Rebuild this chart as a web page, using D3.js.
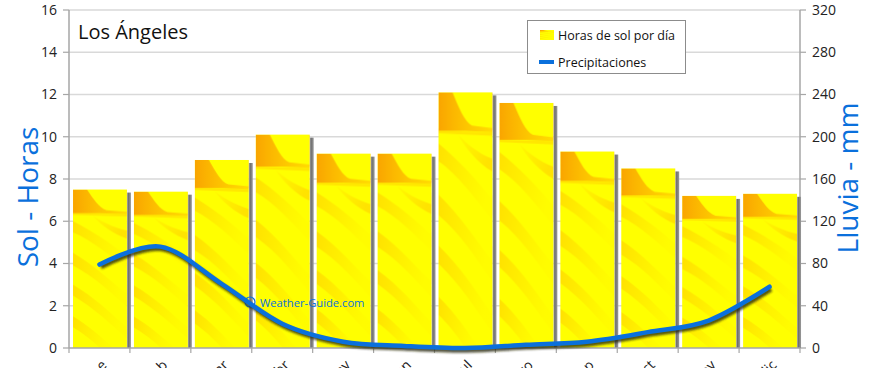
<!DOCTYPE html>
<html><head><meta charset="utf-8">
<script src="https://cdn.jsdelivr.net/npm/d3@7/dist/d3.min.js"></script>
<style>
html,body{margin:0;padding:0;background:#fff;}
svg{display:block;font-family:"Open Sans",Lato,sans-serif;}
</style></head>
<body>
<svg id="chart" width="870" height="368"></svg>
<script>
const months = ["ene","feb","mar","abr","may","jun","jul","ago","sep","oct","nov","dic"];
const sunHours = [7.5,7.4,8.9,10.1,9.2,9.2,12.1,11.6,9.3,8.5,7.2,7.3];
const rainMm = [79,96,61,23,6,2,0,3,6,15,26,58];
const leftTicks = [0,2,4,6,8,10,12,14,16];
const rightTicks = [0,40,80,120,160,200,240,280,320];
const title = "Los Ángeles";
const legendLabels = ["Horas de sol por día","Precipitaciones"];
const leftTitle = "Sol - Horas";
const rightTitle = "Lluvia - mm";
const watermark = "Weather-Guide.com";

const svg = d3.select("#chart");
const L = 69, R = 800, T = 10, B = 348;
const blue = "#0a70dc";

const x = d3.scaleBand().domain(months).range([L, R]);
const y = d3.scaleLinear().domain([0,16]).range([B, T]);
const y2 = d3.scaleLinear().domain([0,320]).range([B, T]);

const defs = svg.append("defs");
const pat = defs.append("pattern").attr("id","sunTex")
  .attr("patternContentUnits","objectBoundingBox")
  .attr("width",1).attr("height",1);
pat.append("rect").attr("width",1).attr("height",1).attr("fill","#ffff00");
function grad(id, c1, o1, c2, o2, x2, y2v){
  const g = defs.append("linearGradient").attr("id",id).attr("x1",0).attr("y1",0).attr("x2",x2).attr("y2",y2v);
  g.append("stop").attr("offset","0%").attr("stop-color",c1).attr("stop-opacity",o1);
  g.append("stop").attr("offset","100%").attr("stop-color",c2).attr("stop-opacity",o2);
}
grad("stG","#ffb000",0.05,"#ffb000",0.35,1,0.4);
grad("stG2","#ffa800",0.35,"#ffc000",0.05,1,0.3);
grad("wedgeG","#f9a000",0.95,"#ffc000",0.55,1,0);
const streaks = [
  {d:"M0.3,0.15 C0.5,0.2 0.75,0.24 1,0.26 L1,0.31 C0.75,0.28 0.5,0.22 0.35,0.16 Z", f:"url(#stG)"},
  {d:"M0,0.2 C0.35,0.26 0.7,0.34 1,0.42 L1,0.5 C0.7,0.42 0.35,0.32 0,0.27 Z", f:"url(#stG2)"},
  {d:"M0,0.4 C0.4,0.48 0.7,0.58 1,0.66 L1,0.74 C0.7,0.65 0.4,0.55 0,0.48 Z", f:"url(#stG2)"},
  {d:"M0,0.6 C0.4,0.68 0.7,0.78 1,0.87 L1,0.94 C0.7,0.85 0.4,0.75 0,0.67 Z", f:"url(#stG2)"},
  {d:"M0,0.8 C0.3,0.86 0.55,0.94 0.75,1 L0.5,1 C0.35,0.95 0.15,0.9 0,0.87 Z", f:"url(#stG2)"}
];
streaks.forEach(s => pat.append("path").attr("d",s.d).attr("fill",s.f));
pat.append("path").attr("d","M0,0 L0.26,0 C0.38,0.06 0.48,0.115 0.62,0.13 L1,0.14 L1,0.155 L0.5,0.15 L0,0.15 Z")
  .attr("fill","url(#wedgeG)");
pat.append("path").attr("d","M0,0.15 L1,0.155 L1,0.17 L0,0.16 Z").attr("fill","#ffd000").attr("opacity",0.5);

const sg = defs.append("linearGradient").attr("id","shadowG").attr("x1",0).attr("y1",0).attr("x2",1).attr("y2",0);
sg.append("stop").attr("offset","0%").attr("stop-color","#b0b0b0");
sg.append("stop").attr("offset","35%").attr("stop-color","#6f6f6f");
sg.append("stop").attr("offset","100%").attr("stop-color","#9a9a9a");

defs.append("filter").attr("id","blur").append("feGaussianBlur").attr("stdDeviation",0.9);

svg.append("g").selectAll("line").data(leftTicks.filter(d=>d>0)).join("line")
  .attr("x1",L).attr("x2",R).attr("y1",d=>y(d)).attr("y2",d=>y(d))
  .attr("stroke","#d9d9d9").attr("stroke-width",1.5);

const axisColor = "#a6a6a6";
svg.append("line").attr("x1",L).attr("x2",L).attr("y1",T).attr("y2",B).attr("stroke",axisColor).attr("stroke-width",1.5);
svg.append("line").attr("x1",R).attr("x2",R).attr("y1",T).attr("y2",B).attr("stroke",axisColor).attr("stroke-width",1.5);
svg.append("g").selectAll("line").data(leftTicks).join("line")
  .attr("x1",L-6).attr("x2",L).attr("y1",d=>y(d)).attr("y2",d=>y(d)).attr("stroke",axisColor).attr("stroke-width",1.2);
svg.append("g").selectAll("line").data(rightTicks).join("line")
  .attr("x1",R).attr("x2",R+6).attr("y1",d=>y2(d)).attr("y2",d=>y2(d)).attr("stroke",axisColor).attr("stroke-width",1.2);

svg.append("g").selectAll("text").data(leftTicks).join("text")
  .attr("x",L-12).attr("y",d=>y(d)).attr("dy","0.35em").attr("text-anchor","end")
  .attr("font-size",14).attr("fill","#222").text(d=>d);
svg.append("g").selectAll("text").data(rightTicks).join("text")
  .attr("x",R+12).attr("y",d=>y2(d)).attr("dy","0.35em").attr("text-anchor","start")
  .attr("font-size",14).attr("fill","#222").text(d=>d);

const step = x.step();
const barOff = step*0.066, barW = step*0.885, shW = 4;
const bars = svg.append("g");
bars.selectAll("rect.sh").data(months).join("rect").attr("class","sh")
  .attr("x",m=>x(m)+barOff+barW).attr("width",shW)
  .attr("y",(m,i)=>y(sunHours[i])+3).attr("height",(m,i)=>B-y(sunHours[i])-3)
  .attr("fill","url(#shadowG)");
bars.selectAll("rect.bar").data(months).join("rect").attr("class","bar")
  .attr("x",m=>x(m)+barOff).attr("width",barW)
  .attr("y",(m,i)=>y(sunHours[i])).attr("height",(m,i)=>B-y(sunHours[i]))
  .attr("fill","url(#sunTex)");

svg.append("line").attr("x1",L).attr("x2",R).attr("y1",B).attr("y2",B).attr("stroke",axisColor).attr("stroke-width",1.5);
const bounds = months.map(m=>x(m)).concat([R]);
svg.append("g").selectAll("line").data(bounds).join("line")
  .attr("x1",d=>d).attr("x2",d=>d).attr("y1",B).attr("y2",B+5).attr("stroke",axisColor).attr("stroke-width",1.2);
svg.append("g").selectAll("text").data(months).join("text")
  .attr("transform",m=>`translate(${x(m)+step/2+8},${B+18}) rotate(-45)`)
  .attr("text-anchor","end").attr("font-size",14).attr("fill","#222").text(m=>m);

const wm = svg.append("g").attr("fill",blue);
wm.append("circle").attr("cx",250).attr("cy",302).attr("r",5).attr("fill","none").attr("stroke",blue).attr("stroke-width",1.2);
wm.append("text").attr("x",250).attr("y",305.5).attr("text-anchor","middle").attr("font-size",8).text("c");
wm.append("text").attr("x",260).attr("y",306.5).attr("font-size",11.2).text(watermark);

const line = d3.line().x((d,i)=>x(months[i])+step/2).y(d=>y2(d)).curve(d3.curveCardinal.tension(0));
svg.append("path").datum(rainMm).attr("d",line).attr("fill","none")
  .attr("stroke","#2a2a10").attr("stroke-opacity",0.8).attr("stroke-width",4.5)
  .attr("transform","translate(1.5,2.5)").attr("filter","url(#blur)");
svg.append("path").datum(rainMm).attr("d",line).attr("fill","none")
  .attr("stroke",blue).attr("stroke-width",4.5).attr("stroke-linecap","round");

svg.append("text").attr("x",78).attr("y",39).attr("font-size",20).attr("fill","#111").text(title);

svg.append("text").attr("transform",`translate(38,197) rotate(-90)`).attr("text-anchor","middle")
  .attr("font-size",28).attr("fill",blue).text(leftTitle);
svg.append("text").attr("transform",`translate(858,178) rotate(-90)`).attr("text-anchor","middle")
  .attr("font-size",28).attr("fill",blue).text(rightTitle);

const lg = svg.append("g");
lg.append("rect").attr("x",527.5).attr("y",20.5).attr("width",158).attr("height",53)
  .attr("fill","#fff").attr("stroke","#8c8c8c").attr("stroke-width",1);
lg.append("rect").attr("x",540).attr("y",30).attr("width",14).attr("height",10).attr("fill","url(#sunTex)");
lg.append("text").attr("x",558).attr("y",40).attr("font-size",12.5).attr("fill","#111").text(legendLabels[0]);
lg.append("line").attr("x1",539).attr("x2",554).attr("y1",62).attr("y2",62).attr("stroke",blue).attr("stroke-width",4);
lg.append("text").attr("x",558).attr("y",67).attr("font-size",12.5).attr("fill","#111").text(legendLabels[1]);
</script>
</body></html>
